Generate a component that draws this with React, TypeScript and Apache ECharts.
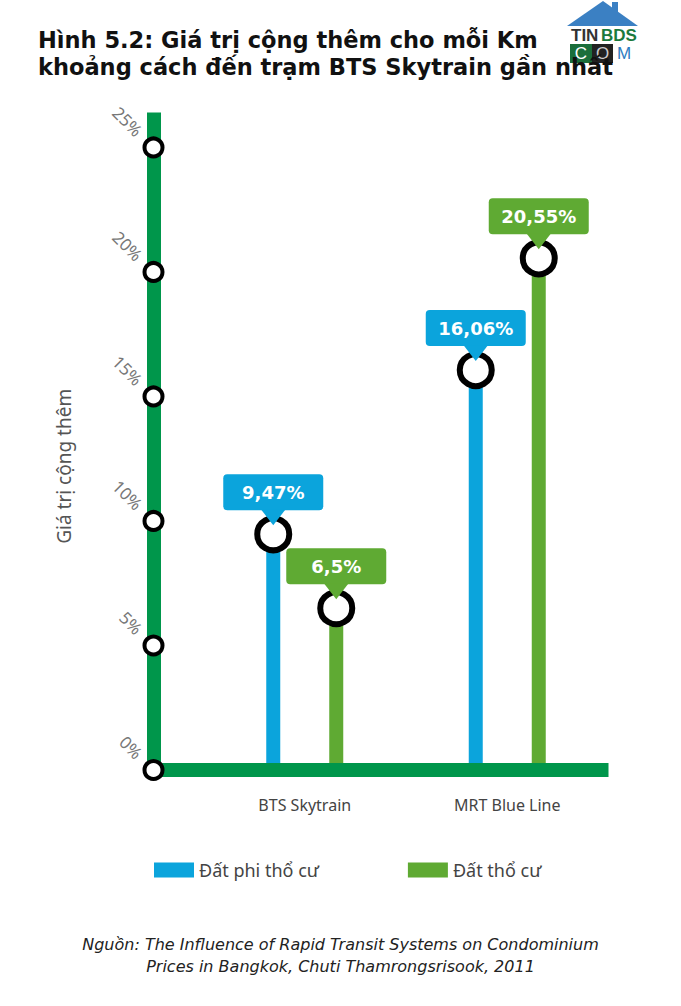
import React, { useEffect, useRef } from "react";
import * as echarts from "echarts";

const categories = ["BTS Skytrain", "MRT Blue Line"];
const seriesNames = ["Đất phi thổ cư", "Đất thổ cư"];
const nonResidential = [9.47, 16.06];
const residential = [6.5, 20.55];
const yTicks = [0, 5, 10, 15, 20, 25];
const titleText =
  "Hình 5.2: Giá trị cộng thêm cho mỗi Km\nkhoảng cách đến trạm BTS Skytrain gần nhất";
const sourceText =
  "Nguồn: The Influence of Rapid Transit Systems on Condominium\nPrices in Bangkok, Chuti Thamrongsrisook, 2011";
const yAxisName = "Giá trị cộng thêm";

const AXIS_GREEN = "#00964b";
const BLUE = "#0ba4dc";
const GREEN = "#5faa33";
const BAR_W = 14;
const BAR_GAP = 3.5;
const Y_OFFSET = 50;
const FONT = '"Noto Sans", sans-serif';
const WIDE = '"DejaVu Sans", sans-serif';
const NARROW = '"Liberation Sans Narrow", "Liberation Sans", sans-serif';

function fmt(v: number) {
  return String(v).replace(".", ",") + "%";
}

function markerSeries(name: string, values: number[], color: string, sign: number) {
  const shift = (sign * BAR_W * (1 + BAR_GAP)) / 2;
  return {
    type: "custom",
    name,
    z: 10,
    silent: true,
    data: values.map((v, i) => [i, v]),
    encode: { x: 0, y: 1 },
    renderItem: (params: any, api: any) => {
      const p = api.coord([api.value(0), api.value(1)]);
      const x = p[0] + shift;
      const cy = p[1];
      return {
        type: "group",
        children: [
          {
            type: "circle",
            shape: { cx: x, cy, r: 16 },
            style: { fill: "#fff", stroke: "#000", lineWidth: 6 },
          },
          {
            type: "rect",
            shape: { x: x - 50, y: cy - 60, width: 100, height: 36, r: 4 },
            style: { fill: color },
          },
          {
            type: "polygon",
            shape: {
              points: [
                [x - 12, cy - 24.5],
                [x + 12, cy - 24.5],
                [x, cy - 9],
              ],
            },
            style: { fill: color },
          },
          {
            type: "text",
            style: {
              text: fmt(api.value(1)),
              x,
              y: cy - 42,
              align: "center",
              verticalAlign: "middle",
              fill: "#fff",
              fontSize: 18,
              fontWeight: "bold",
              fontFamily: WIDE,
            },
          },
        ],
      };
    },
  };
}

export default function App() {
  const ref = useRef<HTMLDivElement>(null);
  useEffect(() => {
    document.body.style.margin = "0";
    const chart = echarts.init(ref.current!, undefined, { renderer: "svg" });
    chart.setOption({
      animation: false,
      backgroundColor: "#fff",
      title: [
        {
          text: titleText,
          left: 33,
          top: 21,
          textStyle: {
            fontFamily: WIDE,
            fontWeight: "bold",
            fontSize: 22.5,
            lineHeight: 27,
            color: "#111",
          },
        },
        {
          text: sourceText,
          left: "center",
          top: 928,
          textStyle: {
            fontFamily: WIDE,
            fontStyle: "italic",
            fontWeight: "normal",
            fontSize: 16,
            lineHeight: 22,
            color: "#222",
          },
        },
      ],
      graphic: [
        {
          type: "polygon",
          shape: { points: [[567, 26], [603, 1], [638, 26]] },
          style: { fill: "#3b80c3" },
        },
        { type: "rect", shape: { x: 612, y: 2, width: 6, height: 14 }, style: { fill: "#3b80c3" } },
        {
          type: "text",
          style: {
            text: "TIN",
            x: 571,
            y: 35,
            verticalAlign: "middle",
            fill: "#333",
            fontSize: 17,
            fontWeight: "bold",
            fontFamily: NARROW,
          },
        },
        {
          type: "text",
          style: {
            text: "BDS",
            x: 601,
            y: 35,
            verticalAlign: "middle",
            fill: "#1b7a3d",
            fontSize: 17,
            fontWeight: "bold",
            fontFamily: NARROW,
          },
        },
        { type: "rect", shape: { x: 570, y: 44, width: 22, height: 19 }, style: { fill: "#1b6e3b" } },
        { type: "rect", shape: { x: 592, y: 44, width: 21, height: 19 }, style: { fill: "#222" } },
        {
          type: "text",
          style: {
            text: "C",
            x: 581,
            y: 53,
            align: "center",
            verticalAlign: "middle",
            fill: "#fff",
            fontSize: 17,
            fontFamily: NARROW,
          },
        },
        {
          type: "text",
          style: {
            text: "O",
            x: 602.5,
            y: 53,
            align: "center",
            verticalAlign: "middle",
            fill: "#ccc",
            fontSize: 17,
            fontFamily: NARROW,
          },
        },
        {
          type: "text",
          style: {
            text: "M",
            x: 624,
            y: 53,
            align: "center",
            verticalAlign: "middle",
            fill: "#2d7cc1",
            fontSize: 17,
            fontFamily: NARROW,
          },
        },
      ],
      legend: {
        left: 149,
        top: 856,
        itemWidth: 40,
        itemHeight: 15,
        itemGap: 89,
        icon: "rect",
        data: seriesNames,
        textStyle: { fontFamily: FONT, fontSize: 18, color: "#444" },
      },
      grid: { left: 203.5, right: 72.5, top: 112.6, bottom: 236, containLabel: false },
      xAxis: {
        type: "category",
        data: categories,
        z: 5,
        axisLine: { show: true, lineStyle: { color: AXIS_GREEN, width: 14, cap: "butt" } },
        axisTick: { show: false },
        axisLabel: { margin: 27, color: "#444", fontSize: 16, fontFamily: FONT },
        splitLine: { show: false },
      },
      yAxis: {
        type: "value",
        min: 0,
        max: 26.4,
        interval: 5,
        position: "left",
        offset: Y_OFFSET,
        name: yAxisName,
        nameLocation: "middle",
        nameGap: 80,
        nameRotate: 90,
        nameTextStyle: {
          fontFamily: FONT,
          fontSize: 19,
          color: "#555",
          padding: [0, 50, 0, 0],
        },
        axisLine: { show: true, lineStyle: { color: AXIS_GREEN, width: 14, cap: "butt" } },
        axisTick: { show: false },
        splitLine: { show: false },
        axisLabel: {
          formatter: (v: number) => (v % 5 === 0 ? v + "%" : ""),
          rotate: -45,
          margin: 0,
          padding: [0, 20, 0, 0],
          color: "#777",
          fontSize: 17,
          fontFamily: FONT,
        },
      },
      series: [
        {
          type: "bar",
          name: seriesNames[0],
          data: nonResidential,
          barWidth: BAR_W,
          barGap: BAR_GAP * 100 + "%",
          itemStyle: { color: BLUE },
          silent: true,
        },
        {
          type: "bar",
          name: seriesNames[1],
          data: residential,
          barWidth: BAR_W,
          barGap: BAR_GAP * 100 + "%",
          itemStyle: { color: GREEN },
          silent: true,
        },
        markerSeries(seriesNames[0], nonResidential, BLUE, -1),
        markerSeries(seriesNames[1], residential, GREEN, 1),
        {
          type: "custom",
          z: 11,
          silent: true,
          data: yTicks.map((v) => [0, v]),
          encode: { x: 0, y: 1 },
          renderItem: (params: any, api: any) => {
            const y = api.coord([0, api.value(1)])[1];
            const cs = params.coordSys;
            const ax = cs.x - Y_OFFSET;
            const children: any[] = [];
            if (api.value(1) === 0) {
              children.push({
                type: "rect",
                shape: { x: ax - 7, y: y - 7, width: cs.x - ax + 8, height: 14 },
                style: { fill: AXIS_GREEN },
              });
            }
            children.push({
              type: "circle",
              shape: { cx: ax, cy: y, r: 9 },
              style: { fill: "#fff", stroke: "#000", lineWidth: 4 },
            });
            return { type: "group", children };
          },
        },
      ],
    });
    return () => chart.dispose();
  }, []);
  return <div ref={ref} style={{ width: 681, height: 1006 }} />;
}
